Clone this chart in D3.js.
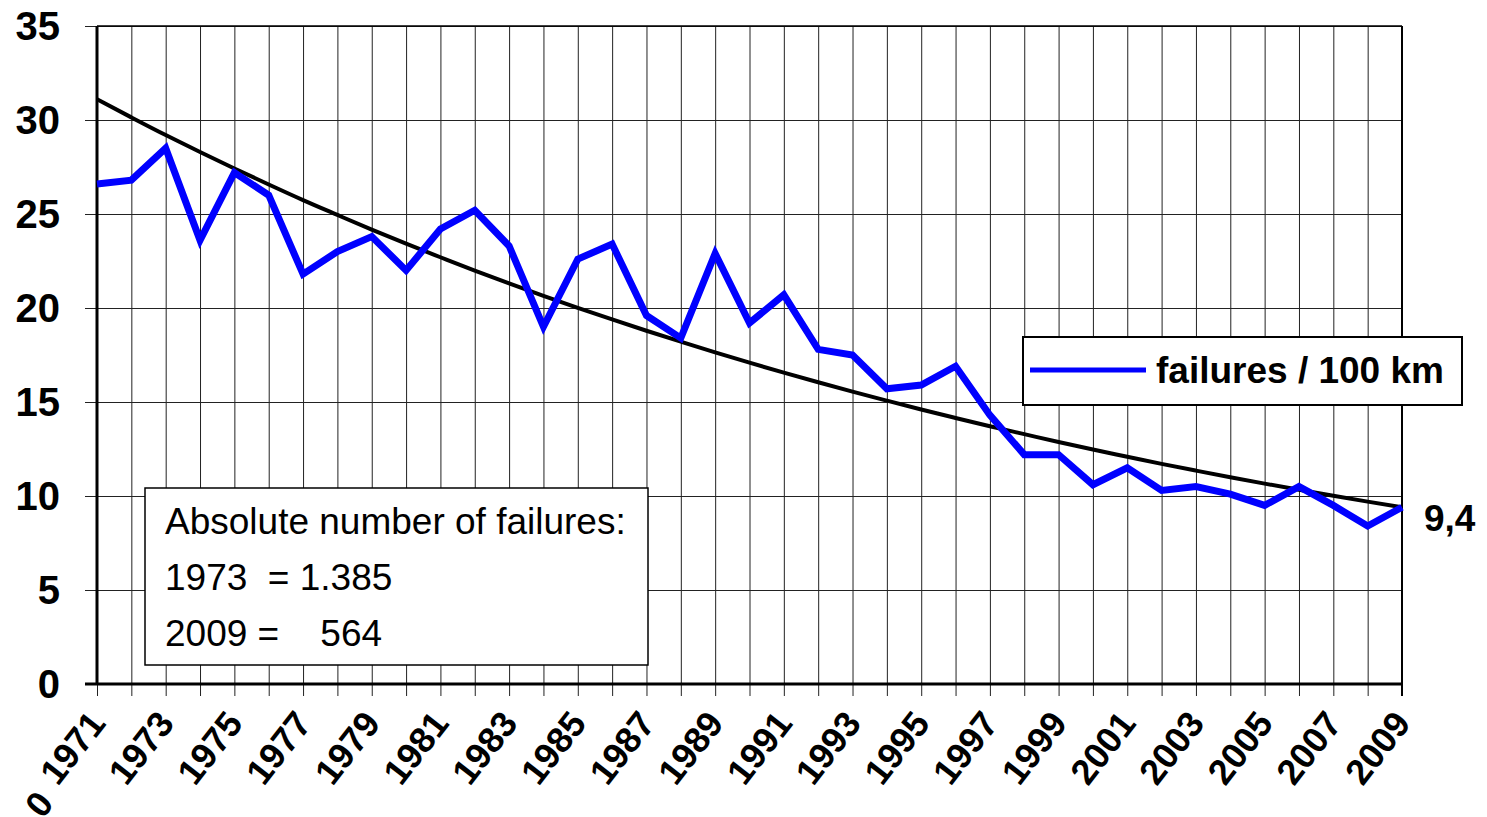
<!DOCTYPE html>
<html>
<head>
<meta charset="utf-8">
<script src="https://cdn.jsdelivr.net/npm/d3@7"></script>
<style>
  body { margin: 0; background: #fff; }
  svg { display: block; font-family: "Liberation Sans", Arial, sans-serif; }
</style>
</head>
<body>
<svg width="1487" height="817"></svg>
<script>
var years = d3.range(1971, 2010);
var failures = [26.6, 26.8, 28.5, 23.6, 27.2, 26.0, 21.8, 23.0, 23.8, 22.0,
                24.2, 25.2, 23.3, 19.0, 22.6, 23.4, 19.6, 18.4, 22.9, 19.2,
                20.7, 17.8, 17.5, 15.7, 15.9, 16.9, 14.3, 12.2, 12.2, 10.6,
                11.5, 10.3, 10.5, 10.1, 9.5, 10.5, 9.5, 8.4, 9.4];
var trend = [31.10, 30.14, 29.20, 28.30, 27.42, 26.57, 25.74, 24.95, 24.17, 23.42,
             22.70, 21.99, 21.31, 20.65, 20.01, 19.39, 18.79, 18.21, 17.64, 17.09,
             16.56, 16.05, 15.55, 15.07, 14.60, 14.15, 13.71, 13.29, 12.87, 12.47,
             12.09, 11.71, 11.35, 11.00, 10.66, 10.33, 10.01, 9.70, 9.40];
var yTicks = [0, 5, 10, 15, 20, 25, 30, 35];
var labelYears = d3.range(1971, 2010, 2);
var legendLabel = "failures / 100 km";
var lastLabel = "9,4";
var noteLines = ["Absolute number of failures:", "1973  = 1.385", "2009 =    564"];

var svg = d3.select("svg");
var plotLeft = 97, plotRight = 1402, plotTop = 26, plotBottom = 684;

var x = d3.scaleLinear().domain([1971, 2009]).range([plotLeft, plotRight]);
var y = d3.scaleLinear().domain([0, 35]).range([plotBottom, plotTop]);

// vertical grid + ticks below axis
var xGrid = svg.append("g")
    .attr("transform", "translate(0," + (plotBottom + 12) + ")")
    .call(d3.axisBottom(x).tickValues(years).tickSize(-(plotBottom + 12 - plotTop)).tickFormat(""));
xGrid.select(".domain").remove();
xGrid.selectAll("line").attr("stroke", "#222").attr("stroke-width", 1);

// horizontal grid + labels
var yAxis = svg.append("g")
    .attr("transform", "translate(85,0)")
    .call(d3.axisLeft(y).tickValues(yTicks).tickSize(-(plotRight - 85)).tickPadding(25));
yAxis.select(".domain").remove();
yAxis.selectAll("line").attr("stroke", "#222").attr("stroke-width", 1);
yAxis.selectAll("text")
    .attr("font-family", "Liberation Sans, Arial, sans-serif")
    .attr("font-size", 40)
    .attr("font-weight", "bold")
    .attr("fill", "#000")
    .attr("dy", "0.33em");

// axis frame
svg.append("line").attr("x1", plotLeft).attr("x2", plotLeft).attr("y1", plotTop).attr("y2", plotBottom)
    .attr("stroke", "#000").attr("stroke-width", 3);
svg.append("line").attr("x1", plotLeft - 12).attr("x2", plotRight).attr("y1", plotBottom).attr("y2", plotBottom)
    .attr("stroke", "#000").attr("stroke-width", 3);
svg.append("line").attr("x1", plotRight).attr("x2", plotRight).attr("y1", plotTop).attr("y2", plotBottom + 12)
    .attr("stroke", "#000").attr("stroke-width", 2);
svg.append("line").attr("x1", plotLeft).attr("x2", plotRight).attr("y1", plotTop).attr("y2", plotTop)
    .attr("stroke", "#000").attr("stroke-width", 1.5);

// x labels
svg.append("g").selectAll("text")
    .data(labelYears)
    .enter()
    .append("text")
    .attr("transform", function(d){ return "translate(" + (x(d) + 10) + "," + (plotBottom + 40) + ") rotate(-52)"; })
    .attr("text-anchor", "end")
    .attr("font-size", 36)
    .attr("font-weight", "bold")
    .text(function(d){ return d; });

svg.append("text")
    .attr("transform", "translate(" + (x(1971) - 42) + "," + (plotBottom + 120) + ") rotate(-52)")
    .attr("text-anchor", "end")
    .attr("font-size", 36)
    .attr("font-weight", "bold")
    .text("0");

// trend curve
var trendLine = d3.line()
    .x(function(d, i){ return x(years[i]); })
    .y(function(d){ return y(d); })
    .curve(d3.curveMonotoneX);

svg.append("path")
    .datum(trend)
    .attr("fill", "none")
    .attr("stroke", "#000")
    .attr("stroke-width", 4)
    .attr("d", trendLine);

// failures per 100 km
var line = d3.line()
    .x(function(d, i){ return x(years[i]); })
    .y(function(d){ return y(d); });

svg.append("path")
    .datum(failures)
    .attr("fill", "none")
    .attr("stroke", "#0000ff")
    .attr("stroke-width", 7)
    .attr("stroke-linejoin", "miter")
    .attr("d", line);

// end value
svg.append("text")
    .attr("x", x(2009) + 22)
    .attr("y", y(failures[failures.length - 1]) + 24)
    .attr("font-size", 37)
    .attr("font-weight", "bold")
    .text(lastLabel);

// legend
var legend = svg.append("g");
legend.append("rect")
    .attr("x", 1023).attr("y", 337).attr("width", 439).attr("height", 68)
    .attr("fill", "#fff").attr("stroke", "#000").attr("stroke-width", 2);
legend.append("line")
    .attr("x1", 1030).attr("x2", 1146).attr("y1", 370).attr("y2", 370)
    .attr("stroke", "#0000ff").attr("stroke-width", 5);
legend.append("text")
    .attr("x", 1156).attr("y", 383)
    .attr("font-size", 37)
    .attr("font-weight", "bold")
    .text(legendLabel);

// note box
var note = svg.append("g");
note.append("rect")
    .attr("x", 145).attr("y", 488).attr("width", 503).attr("height", 177)
    .attr("fill", "#fff").attr("stroke", "#000").attr("stroke-width", 1.5);
note.selectAll("text")
    .data(noteLines)
    .enter()
    .append("text")
    .attr("x", 165)
    .attr("y", function(d, i){ return 534 + i * 56; })
    .attr("font-size", 37)
    .attr("xml:space", "preserve")
    .style("white-space", "pre")
    .text(function(d){ return d; });
</script>
</body>
</html>
